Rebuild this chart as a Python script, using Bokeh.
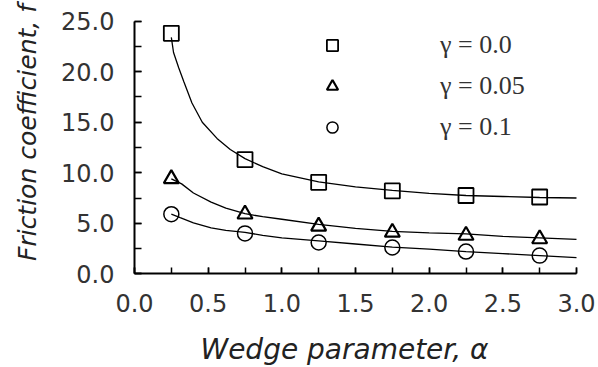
import math
from bokeh.plotting import figure
from bokeh.models import (Range1d, SingleIntervalTicker, PrintfTickFormatter, Label,
                          Legend, LegendItem)
from bokeh.embed import file_html
from bokeh.resources import INLINE

# ---- data ----
alpha_pts = [0.25, 0.75, 1.25, 1.75, 2.25, 2.75]
f_g000 = [23.8, 11.3, 9.05, 8.2, 7.75, 7.6]
f_g005 = [9.4, 5.9, 4.7, 4.1, 3.8, 3.45]
f_g010 = [5.9, 4.0, 3.1, 2.6, 2.2, 1.8]

curve_x0 = [0.25, 0.265, 0.30, 0.335, 0.39, 0.46, 0.56, 0.65, 0.75, 0.87, 1.0, 1.25,
            1.5, 1.75, 2.0, 2.25, 2.5, 2.75, 3.0]
curve_f0 = [23.4, 21.9, 20.4, 19.0, 16.9, 15.0, 13.4, 12.3, 11.4, 10.6, 9.9, 9.1,
            8.6, 8.25, 7.95, 7.75, 7.65, 7.55, 7.5]
curve_x1 = [0.25, 0.32, 0.4, 0.52, 0.62, 0.75, 0.87, 1.0, 1.25, 1.5, 1.75, 2.0,
            2.25, 2.5, 2.75, 3.0]
curve_f1 = [9.4, 8.9, 8.0, 7.1, 6.5, 5.95, 5.65, 5.4, 4.9, 4.5, 4.2, 4.05,
            3.95, 3.7, 3.55, 3.4]
curve_x2 = [0.25, 0.31, 0.4, 0.52, 0.62, 0.75, 0.87, 1.0, 1.25, 1.5, 1.75, 2.0,
            2.25, 2.5, 2.75, 3.0]
curve_f2 = [5.9, 5.55, 5.05, 4.55, 4.3, 4.1, 3.8, 3.55, 3.25, 2.95, 2.65, 2.45,
            2.2, 2.0, 1.8, 1.6]

series_labels = ["γ = 0.0", "γ = 0.05", "γ = 0.1"]
x_title = "Wedge parameter, α"
y_title = "Friction coefficient, f"
x_lo, x_hi = 0.0, 3.0
y_lo, y_hi = 0.0, 25.0

# ---- layout: the frame covers the whole canvas; axes are pinned at 0 ----
W, H = 598, 367
L, R, T, B = 134, 576, 20.7, 273.3          # pixel box of the data area
sx = (R - L) / (x_hi - x_lo)
sy = (B - T) / (y_hi - y_lo)

p = figure(width=W, height=H, output_backend="svg", toolbar_location=None,
           x_range=Range1d(x_lo - L / sx, x_hi + (W - R) / sx),
           y_range=Range1d(y_lo - (H - B) / sy, y_hi + T / sy),
           min_border_left=0, min_border_right=0, min_border_top=0,
           min_border_bottom=0)
p.outline_line_color = None
p.xgrid.visible = False
p.ygrid.visible = False
p.background_fill_color = "white"
p.border_fill_color = "white"

tick_font = "DejaVu Sans"
xa, ya = p.xaxis[0], p.yaxis[0]
xa.fixed_location = y_lo
ya.fixed_location = x_lo
xa.bounds = (x_lo, x_hi)
ya.bounds = (y_lo, y_hi)
for ax, interval in ((xa, 0.5), (ya, 5.0)):
    ax.ticker = SingleIntervalTicker(interval=interval, num_minor_ticks=2)
    ax.formatter = PrintfTickFormatter(format="%.1f")
    ax.axis_line_color = "black"
    ax.axis_line_width = 2
    ax.major_tick_line_color = "black"
    ax.minor_tick_line_color = "black"
    ax.major_tick_line_width = 1.5
    ax.minor_tick_line_width = 1.5
    ax.major_tick_out = 0
    ax.minor_tick_out = 0
    ax.major_label_text_font = tick_font
    ax.major_label_text_font_size = "24px"
    ax.major_label_text_color = "#333333"

xa.major_tick_in = 6
xa.minor_tick_in = 6
ya.major_tick_in = 7
ya.minor_tick_in = 7
xa.major_label_standoff = 20
ya.major_label_standoff = 20

# curves
for cx, cf in ((curve_x0, curve_f0), (curve_x1, curve_f1), (curve_x2, curve_f2)):
    p.line(cx, cf, line_color="black", line_width=1.3)

# markers
r0 = p.scatter(alpha_pts, f_g000, marker="square", size=15, fill_color=None,
               line_color="black", line_width=1.8)
r1 = p.scatter(alpha_pts, f_g005, marker="triangle", size=15, fill_color=None,
               line_color="black", line_width=2.2)
r2 = p.scatter(alpha_pts, f_g010, marker="circle", size=15, fill_color=None,
               line_color="black", line_width=1.5)

legend = Legend(items=[LegendItem(label=series_labels[0], renderers=[r0]),
                       LegendItem(label=series_labels[1], renderers=[r1]),
                       LegendItem(label=series_labels[2], renderers=[r2])],
                location=(318, 225), orientation="vertical",
                glyph_width=28, glyph_height=28, label_standoff=94, spacing=11,
                padding=0, margin=0, border_line_color=None,
                background_fill_alpha=0,
                label_text_font="Liberation Serif", label_text_font_size="26px",
                label_text_color="#333333")
p.add_layout(legend, "center")

# axis titles
p.add_layout(Label(x=27, y=H - 132, x_units="screen", y_units="screen",
                   text=y_title, angle=math.pi / 2, text_align="center",
                   text_baseline="middle", text_font="DejaVu Sans",
                   text_font_style="italic", text_font_size="25px",
                   text_color="#222222"))
p.add_layout(Label(x=344, y=H - 349, x_units="screen", y_units="screen",
                   text=x_title, text_align="center",
                   text_baseline="alphabetic", text_font="DejaVu Sans",
                   text_font_style="italic", text_font_size="28px",
                   text_color="#222222"))

open("out.html", "w").write(file_html(p, INLINE))
